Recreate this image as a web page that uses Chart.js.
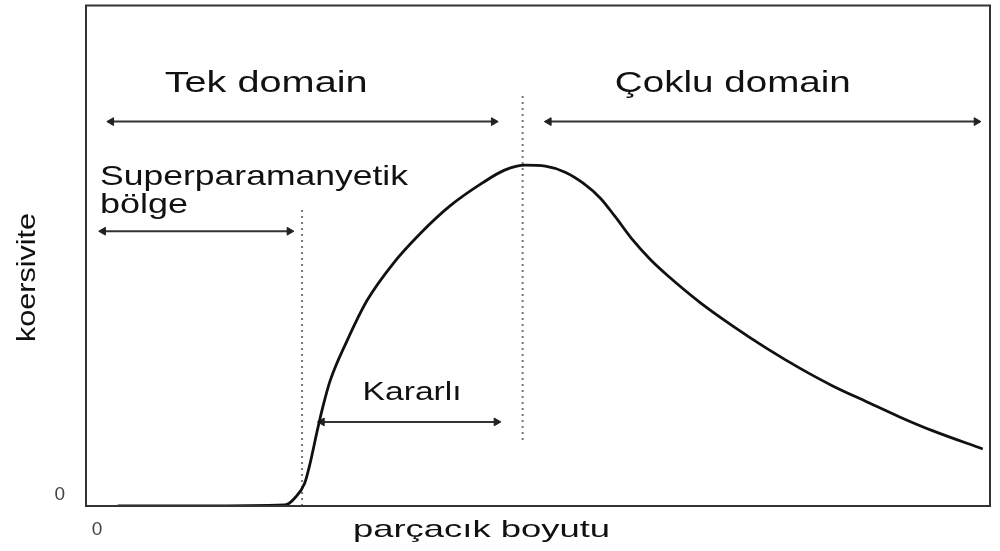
<!DOCTYPE html>
<html>
<head>
<meta charset="utf-8">
<script src="https://cdn.jsdelivr.net/npm/chart.js@4/dist/chart.umd.min.js"></script>
<style>
  html, body { margin: 0; padding: 0; background: #fff; }
  #wrap { width: 1000px; height: 551px; position: relative; }
</style>
</head>
<body>
<div id="wrap"><canvas id="c"></canvas></div>
<script>
// ---- data (arbitrary units: particle size 0-100, coercivity 0-100) ----
const particleSize = [3.5, 12.6, 22.0, 23.1, 24.2, 24.8, 25.6, 26.2, 27.0, 28.9, 31.1, 34.0, 36.9, 40.3, 43.9, 46.3, 48.6, 50.8, 53.0, 55.0, 56.9, 58.5, 60.5, 62.4, 64.3, 67.9, 71.6, 75.3, 79.0, 82.6, 86.4, 90.0, 93.7, 99.2];
const coercivity   = [0, 0, 0.2, 1.6, 4.6, 8.6, 15.2, 19.8, 25.0, 33.1, 41.1, 48.5, 54.3, 60.0, 64.6, 67.1, 68.1, 67.9, 66.7, 64.5, 61.5, 57.9, 53.1, 49.3, 46.1, 40.7, 35.9, 31.5, 27.5, 24.0, 20.8, 17.8, 15.0, 11.4];

// region boundaries (dotted lines): [x, yFrom, yTo]
const boundaries = [[23.9, 0, 59.7], [48.3, 13.2, 82.2]];
// double-headed arrows: [xFrom, xTo, y]
const arrows = [[2.8, 45.1, 76.8], [51.2, 98.5, 76.8], [1.9, 22.5, 54.9], [26.1, 45.4, 16.8]];
// region labels and their anchor (data coords)
const regionLabels = ["Tek domain", "Çoklu domain", "Superparamanyetik", "bölge", "Kararlı"];
const regionAnchors = [[8.7, 82.8], [58.5, 82.8], [1.55, 64.1], [1.55, 58.5], [30.6, 21.2]];
const xTitle = "parçacık boyutu";
const yTitle = "koersivite";
const tickLabels = ["0"];

// ---- styles ----
const FONT = "'Liberation Sans', Arial, sans-serif";
const labelStyle = [ {size: 29, w: 203}, {size: 29, w: 236}, {size: 28, w: 308}, {size: 28, w: 88}, {size: 25, w: 99} ];

function stretchedText(ctx, text, px, py, size, width, rot) {
  ctx.save();
  ctx.font = size + "px " + FONT;
  const m = ctx.measureText(text).width;
  ctx.translate(px, py);
  if (rot) ctx.rotate(rot);
  ctx.scale(width / m, 1);
  ctx.textAlign = "left";
  ctx.textBaseline = "alphabetic";
  ctx.fillStyle = "#111";
  ctx.fillText(text, 0, 0);
  ctx.restore();
}

const annotPlugin = {
  id: "annot",
  afterDatasetsDraw(chart) {
    const { ctx, scales: { x, y }, chartArea: a } = chart;
    ctx.save();
    ctx.strokeStyle = "#333";
    ctx.lineWidth = 2;
    ctx.strokeRect(a.left, a.top, a.right - a.left, a.bottom - a.top);
    ctx.restore();
    regionLabels.forEach((t, i) => {
      const [vx, vy] = regionAnchors[i];
      stretchedText(ctx, t, x.getPixelForValue(vx), y.getPixelForValue(vy), labelStyle[i].size, labelStyle[i].w, 0);
    });
    // axis titles
    stretchedText(ctx, xTitle, a.left + 267, a.bottom + 31, 24, 257, 0);
    stretchedText(ctx, yTitle, 35, a.bottom - 164, 25, 129, -Math.PI / 2);
  }
};

const datasets = [{
  data: particleSize.map((v, i) => ({ x: v, y: coercivity[i] })),
  borderColor: "#111", borderWidth: 2.8, pointRadius: 0,
  cubicInterpolationMode: "monotone", fill: false
}];
boundaries.forEach(b => datasets.push({
  data: [{ x: b[0], y: b[1] }, { x: b[0], y: b[2] }],
  borderColor: "#777", borderWidth: 2, borderDash: [2, 4], pointRadius: 0, fill: false
}));
arrows.forEach(r => datasets.push({
  data: [{ x: r[0], y: r[2] }, { x: r[1], y: r[2] }],
  borderColor: "#333", borderWidth: 2, fill: false,
  pointStyle: "triangle", pointRadius: 4.5, pointBorderWidth: 1,
  pointBackgroundColor: "#222", pointBorderColor: "#222",
  rotation: c => (c.dataIndex === 0 ? -90 : 90)
}));

new Chart(document.getElementById("c"), {
  type: "line",
  data: { datasets },
  plugins: [annotPlugin],
  options: {
    responsive: true, maintainAspectRatio: false, animation: false, events: [],
    layout: { padding: { top: 5, right: 10, left: 0, bottom: 0 } },
    plugins: { legend: { display: false }, tooltip: { enabled: false } },
    scales: {
      x: {
        type: "linear", min: 0, max: 100,
        grid: { display: false, drawTicks: false }, border: { display: false },
        afterBuildTicks: s => { s.ticks = [{ value: 0 }]; },
        afterFit: s => { s.height = 45; s.paddingLeft = 0; s.paddingRight = 0; },
        ticks: { callback: () => tickLabels[0], labelOffset: 11, padding: 12, color: "#444", font: { family: FONT, size: 19 } }
      },
      y: {
        type: "linear", min: 0, max: 100,
        grid: { display: false, drawTicks: false }, border: { display: false },
        afterBuildTicks: s => { s.ticks = [{ value: 0 }]; },
        afterFit: s => { s.width = 86; s.paddingTop = 0; s.paddingBottom = 0; },
        ticks: { callback: () => tickLabels[0], labelOffset: -11, padding: 21, color: "#444", font: { family: FONT, size: 19 } }
      }
    }
  }
});
</script>
</body>
</html>
